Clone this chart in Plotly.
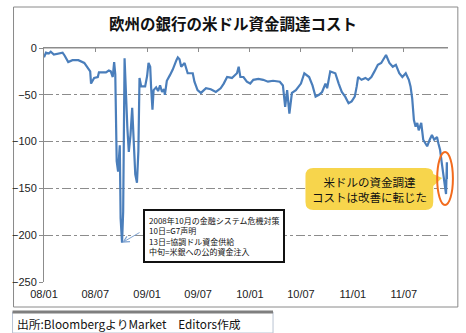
import plotly.graph_objects as go

# Cost of USD funding for European banks (bp)
dates = [
    "2008-01-01", "2008-01-08", "2008-01-18", "2008-01-25", "2008-02-05", "2008-02-22",
    "2008-03-07", "2008-03-14", "2008-03-27", "2008-04-11", "2008-05-02", "2008-05-23",
    "2008-06-05", "2008-06-13", "2008-06-16", "2008-06-27", "2008-07-10", "2008-07-14",
    "2008-08-08", "2008-08-18", "2008-08-25", "2008-09-01", "2008-09-06", "2008-09-10",
    "2008-09-15", "2008-09-20", "2008-09-26", "2008-09-29", "2008-10-04", "2008-10-08",
    "2008-10-13", "2008-10-18", "2008-10-23", "2008-10-28", "2008-11-03", "2008-11-09",
    "2008-11-15", "2008-11-20", "2008-11-26", "2008-12-01", "2008-12-05", "2008-12-11",
    "2008-12-25", "2009-01-01", "2009-01-06", "2009-01-12", "2009-01-15", "2009-01-20",
    "2009-01-24", "2009-02-02", "2009-02-09", "2009-02-16", "2009-02-23", "2009-03-02",
    "2009-03-05", "2009-03-12", "2009-03-23", "2009-04-02", "2009-04-15", "2009-04-20",
    "2009-04-26", "2009-05-02", "2009-05-14", "2009-05-25", "2009-06-12", "2009-06-18",
    "2009-06-29", "2009-07-11", "2009-07-29", "2009-08-15", "2009-09-02", "2009-09-19",
    "2009-09-30", "2009-10-12", "2009-10-29", "2009-11-16", "2009-11-22", "2009-11-28",
    "2009-12-09", "2009-12-21", "2010-01-02", "2010-01-13", "2010-01-31", "2010-02-17",
    "2010-03-06", "2010-03-24", "2010-04-17", "2010-04-28", "2010-05-06", "2010-05-13",
    "2010-05-21", "2010-05-30", "2010-06-13", "2010-07-01", "2010-07-13", "2010-07-18",
    "2010-07-30", "2010-08-11", "2010-08-22", "2010-09-03", "2010-09-14", "2010-09-26",
    "2010-10-02", "2010-10-13", "2010-10-31", "2010-11-12", "2010-11-23", "2010-12-05",
    "2010-12-17", "2010-12-28", "2011-01-08", "2011-01-15", "2011-01-20", "2011-02-01",
    "2011-02-15", "2011-02-25", "2011-03-08", "2011-03-19", "2011-03-31", "2011-04-12",
    "2011-04-23", "2011-04-29", "2011-05-11", "2011-05-23", "2011-06-03", "2011-06-15",
    "2011-06-26", "2011-07-08", "2011-07-19", "2011-07-25", "2011-07-31", "2011-08-06",
    "2011-08-12", "2011-08-18", "2011-08-23", "2011-09-01", "2011-09-08", "2011-09-16",
    "2011-09-22", "2011-10-01", "2011-10-09", "2011-10-17", "2011-10-27", "2011-11-01",
    "2011-11-07", "2011-11-13", "2011-11-19", "2011-11-25", "2011-11-28", "2011-12-01",
    "2011-12-03",
]
cost = [
    -10, -5, -6, -4, -7, -6,
    -5, -8, -15, -13, -13, -16,
    -21, -25, -38, -32, -31, -26,
    -26, -24, -25, -31, -15, -28,
    -121, -132, -104, -182, -208, -175,
    -11, -60, -86, -111, -93, -64,
    -114, -135, -144, -110, -32, -41,
    -41, -30, -16, -20, -41, -66,
    -45, -42, -46, -40, -47, -44,
    -50, -35, -29, -23, -13, -10,
    -12, -20, -16, -27, -27, -36,
    -45, -48, -43, -44, -47, -43,
    -38, -31, -32, -27, -20, -31,
    -31, -36, -38, -34, -33, -34,
    -36, -35, -36, -40, -63, -45,
    -70, -48, -45, -38, -27, -28,
    -31, -40, -52, -50, -47, -38,
    -43, -25, -27, -38, -47, -52,
    -59, -57, -52, -41, -31, -34,
    -32, -34, -31, -25, -18, -16,
    -11, -7.5, -16, -20, -18, -27,
    -31, -27, -34, -41, -54, -77,
    -84, -80, -88, -80, -98, -102,
    -105, -98, -93, -98, -95, -102,
    -109, -123, -135, -148, -156, -122,
    -140,
]

tick_dates = ["2008-01-01", "2008-07-01", "2009-01-01", "2009-07-01",
              "2010-01-01", "2010-07-01", "2011-01-01", "2011-07-01"]
tick_text = ["08/01", "08/07", "09/01", "09/07", "10/01", "10/07", "11/01", "11/07"]
y_ticks = [0, -50, -100, -150, -200, -250]

title_text = "欧州の銀行の米ドル資金調達コスト"
note_text = ("2008年10月の金融システム危機対策<br>10日=G7声明<br>"
             "13日=協調ドル資金供給<br>中旬=米銀への公的資金注入")
callout_text = "米ドルの資金調達<br>コストは改善に転じた"
source_text = "出所:BloombergよりMarket　Editors作成"

W, H = 466, 333
L, R, T, B = 37, 448, 48, 282
X_RANGE = ["2008-01-01", "2011-12-05"]
JP = "Noto Sans CJK JP"
GRID = "#8c8c8c"


def px(x):
    return (x - L) / (R - L)


def py(y):
    return (B - y) / (B - T)


fig = go.Figure()
fig.add_trace(go.Scatter(
    x=dates, y=cost, mode="lines",
    line=dict(color="#4a7ebb", width=2.2),
    hoverinfo="skip", showlegend=False,
))
# hidden companion trace so the top date axis (ticks at y = 0) is drawn
fig.add_trace(go.Scatter(
    x=dates[:1], y=cost[:1], xaxis="x2", mode="markers",
    marker=dict(opacity=0), hoverinfo="skip", showlegend=False,
))

# the lowest point of the crisis, used by the arrow
i_min = cost.index(min(cost))

shapes = [
    # outer chart frame
    dict(type="rect", xref="paper", yref="paper",
         x0=px(6), x1=px(458), y0=py(307), y1=py(7),
         line=dict(color="#8a8a8a", width=1), layer="below"),
    # category axis crossing at zero (top edge of the plot)
    dict(type="line", xref="paper", yref="y", x0=0, x1=1, y0=0, y1=0,
         line=dict(color=GRID, width=1), layer="below"),
    # source box
    dict(type="rect", xref="paper", yref="paper",
         x0=px(5), x1=px(270), y0=py(333), y1=py(312),
         line=dict(color="#b9c3d3", width=1), fillcolor="white"),
    dict(type="line", xref="paper", yref="paper",
         x0=px(5), x1=px(270), y0=py(312), y1=py(312),
         line=dict(color="#7f7f7f", width=3)),
    # speech bubble
    dict(type="path", xref="paper", yref="paper",
         path=(f"M {px(311)},{py(168)} L {px(425)},{py(168)} "
               f"Q {px(433)},{py(168)} {px(433)},{py(174)} "
               f"L {px(442)},{py(178)} L {px(433)},{py(186)} "
               f"L {px(433)},{py(202)} Q {px(433)},{py(210)} {px(425)},{py(210)} "
               f"L {px(311)},{py(210)} Q {px(303)},{py(210)} {px(303)},{py(202)} "
               f"L {px(303)},{py(176)} Q {px(303)},{py(168)} {px(311)},{py(168)} Z"),
         fillcolor="#f7d54c", line=dict(width=0)),
    # ellipse around the latest readings
    dict(type="circle", xref="paper", yref="paper",
         x0=px(437), x1=px(453), y0=py(205), y1=py(152),
         line=dict(color="#f26b1d", width=2)),
]

annotations = [
    dict(text=note_text, xref="paper", yref="paper",
         x=px(138), y=py(209), xanchor="left", yanchor="top",
         align="left", showarrow=False,
         font=dict(family=JP, size=8, color="#111"),
         bordercolor="#111", borderwidth=2, borderpad=4, bgcolor="white"),
    dict(text="", x=dates[i_min], y=cost[i_min], xref="x", yref="y",
         showarrow=True, ax=19, ay=-11, arrowhead=5, arrowsize=1.2,
         arrowwidth=1, arrowcolor="#7fa3d1", standoff=0),
    dict(text=callout_text, xref="paper", yref="paper",
         x=px(368), y=py(189), xanchor="center", yanchor="middle",
         align="center", showarrow=False,
         font=dict(family=JP, size=11.5, color="#111")),
    dict(text=source_text, xref="paper", yref="paper",
         x=px(7), y=py(323), xanchor="left", yanchor="middle",
         showarrow=False, font=dict(family=JP, size=11.8, color="#111")),
]

fig.update_layout(
    width=W, height=H,
    margin=dict(l=L, r=W - R, t=T, b=H - B),
    paper_bgcolor="white", plot_bgcolor="white",
    title=dict(text=f"<b>{title_text}</b>", x=0.5, xref="container",
               xanchor="center", y=1 - 25 / H, yanchor="middle",
               font=dict(family=JP, size=15.5, color="#111")),
    xaxis=dict(type="date", range=X_RANGE, tickvals=tick_dates, ticktext=tick_text,
               showgrid=False, zeroline=False, showline=False, ticks="",
               ticklabelstandoff=4,
               tickfont=dict(family="Liberation Sans", size=11, color="#222")),
    xaxis2=dict(type="date", range=X_RANGE, overlaying="x", side="top",
                anchor="y", tickvals=tick_dates, showticklabels=False,
                showgrid=False, zeroline=False, showline=True, linecolor=GRID,
                linewidth=1, ticks="inside", ticklen=4, tickcolor=GRID),
    yaxis=dict(range=[-250, 0], tickvals=y_ticks, showgrid=True,
               gridcolor=GRID, griddash="dashdot", gridwidth=1,
               zeroline=False, showline=True, linecolor=GRID, linewidth=1,
               ticks="outside", ticklen=4, tickcolor=GRID,
               tickfont=dict(family="Liberation Sans", size=11, color="#222")),
    shapes=shapes,
    annotations=annotations,
)

fig.write_html("out.html")
